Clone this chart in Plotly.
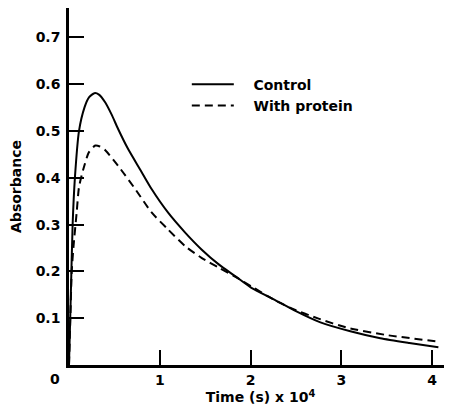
import plotly.graph_objects as go

# Control
control_t = [0, 0.02, 0.04, 0.065, 0.11, 0.17, 0.22, 0.28, 0.33, 0.40, 0.47, 0.54, 0.65, 0.78, 0.91,
             1.09, 1.28, 1.46, 1.65, 1.83, 2.01, 2.25, 2.5, 2.77, 3.1, 3.43, 3.75, 4.07]
control_a = [0, 0.15, 0.30, 0.40, 0.50, 0.55, 0.572, 0.581, 0.578, 0.561, 0.535, 0.505, 0.462, 0.419, 0.376,
             0.326, 0.283, 0.247, 0.215, 0.190, 0.165, 0.141, 0.115, 0.091, 0.072, 0.057, 0.047, 0.038]

# With protein
protein_t = [0, 0.015, 0.03, 0.05, 0.085, 0.11, 0.16, 0.22, 0.29, 0.34, 0.40, 0.54, 0.73, 0.91,
             1.09, 1.28, 1.46, 1.65, 1.83, 2.01, 2.2, 2.44, 2.75, 3.06, 3.5, 4.07]
protein_a = [0, 0.10, 0.20, 0.254, 0.327, 0.38, 0.42, 0.455, 0.469, 0.467, 0.459, 0.426, 0.376, 0.326,
             0.290, 0.254, 0.229, 0.208, 0.189, 0.168, 0.146, 0.122, 0.099, 0.080, 0.064, 0.050]

x_ticks = [1, 2, 3, 4]
y_ticks = [0.1, 0.2, 0.3, 0.4, 0.5, 0.6, 0.7]

FONT = "DejaVu Sans"
NB = "\u00a0\u00a0\u00a0"

fig = go.Figure()
fig.add_trace(go.Scatter(x=control_t, y=control_a, mode="lines", name=NB + "Control",
                         line=dict(color="black", width=2, shape="spline", smoothing=0.6)))
fig.add_trace(go.Scatter(x=protein_t, y=protein_a, mode="lines", name=NB + "With protein",
                         line=dict(color="black", width=2, dash="8px,5px", shape="spline", smoothing=0.6)))

fig.update_layout(
    width=444, height=401,
    margin=dict(l=61, r=0, t=0, b=44),
    paper_bgcolor="white", plot_bgcolor="white",
    font=dict(family=FONT, color="black", size=14, weight="bold"),
    showlegend=True,
    legend=dict(x=0.3076, y=0.83, xanchor="left", yanchor="top", bgcolor="rgba(0,0,0,0)",
                font=dict(size=14, weight="bold"), itemwidth=42, tracegroupgap=0),
    xaxis=dict(range=[0, 4.22], tickvals=x_ticks, ticktext=[str(v) for v in x_ticks],
               ticks="inside", ticklen=15, tickwidth=1.5, tickcolor="black",
               showline=True, linecolor="black", linewidth=2.5, showgrid=False, zeroline=False,
               automargin=False, tickfont=dict(size=14, weight="bold"),
               title=dict(text="Time (s) x 10<sup>4</sup>", standoff=0, font=dict(size=14, weight="bold"))),
    yaxis=dict(range=[0, 0.763], tickvals=y_ticks, ticktext=[f"{v:.1f}" for v in y_ticks],
               ticks="inside", ticklen=15, tickwidth=1.5, tickcolor="black",
               showline=True, linecolor="black", linewidth=2.5, showgrid=False, zeroline=False,
               automargin=False, tickfont=dict(size=14, weight="bold"), ticklabelstandoff=3,
               title=dict(text="Absorbance", standoff=13, font=dict(size=14, weight="bold"))),
)
fig.add_annotation(x=0, y=0, xref="x", yref="y", text="0", showarrow=False,
                   xanchor="right", yanchor="top", xshift=-7, yshift=-4,
                   font=dict(size=14, weight="bold"))

fig.write_html("out.html")
